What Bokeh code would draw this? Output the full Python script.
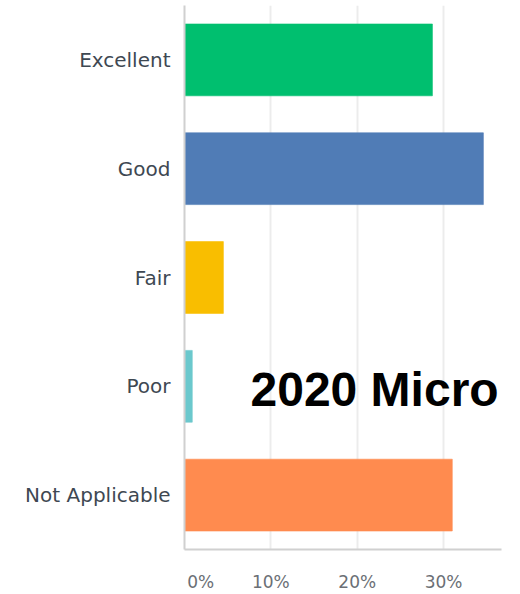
from bokeh.plotting import figure
from bokeh.models import Range1d, FactorRange, Label, FixedTicker
from bokeh.embed import file_html
from bokeh.resources import INLINE

categories = ["Excellent", "Good", "Fair", "Poor", "Not Applicable"]
values = [28.7, 34.6, 4.5, 0.9, 31.0]
colors = ["#00BF6F", "#507CB6", "#F9BE00", "#6BC8CD", "#FF8B4F"]
tick_values = [0, 10, 20, 30]
tick_labels = ["0%", "10%", "20%", "30%"]
overlay_text = "2020 Micro"

p = figure(width=520, height=594,
           y_range=FactorRange(factors=list(reversed(categories))),
           x_range=Range1d(0, 36.7),
           output_backend="svg", toolbar_location=None,
           min_border_left=184, min_border_right=19,
           min_border_top=5, min_border_bottom=44,
           margin=0)

p.hbar(y=categories, left=0, right=values, height=0.66, fill_color=colors,
       line_color=colors, line_alpha=0.6)

p.outline_line_color = None

p.ygrid.visible = False
p.xgrid.ticker = FixedTicker(ticks=tick_values)
p.xgrid.grid_line_color = "#ececec"
p.xgrid.grid_line_width = 2

# y axis
p.yaxis.axis_line_color = "#d0d0d0"
p.yaxis.axis_line_width = 2
p.yaxis.major_tick_line_color = None
p.yaxis.minor_tick_line_color = None
p.yaxis.major_tick_out = 0
p.yaxis.major_label_standoff = 14
p.yaxis.major_label_text_font = "DejaVu Sans"
p.yaxis.major_label_text_font_size = "20px"
p.yaxis.major_label_text_color = "#3e4852"

# x axis
nbsp = "\u00a0"
overrides = {tv: tl for tv, tl in zip(tick_values, tick_labels)}
overrides[tick_values[0]] = nbsp * 6 + tick_labels[0]
p.xaxis.ticker = FixedTicker(ticks=tick_values)
p.xaxis.major_label_overrides = overrides
p.xaxis.axis_line_color = "#d0d0d0"
p.xaxis.axis_line_width = 2
p.xaxis.major_tick_line_color = None
p.xaxis.minor_tick_line_color = None
p.xaxis.major_tick_out = 0
p.xaxis.major_label_standoff = 22
p.xaxis.major_label_text_font = "DejaVu Sans"
p.xaxis.major_label_text_font_size = "17px"
p.xaxis.major_label_text_color = "#6b6f75"

p.add_layout(Label(x=66, y=160, x_units="screen", y_units="screen",
                   text=overlay_text, text_align="left", text_baseline="alphabetic",
                   text_font="Liberation Sans", text_font_style="bold",
                   text_font_size="48px", text_color="black"))

open("out.html", "w").write(file_html(p, INLINE))
